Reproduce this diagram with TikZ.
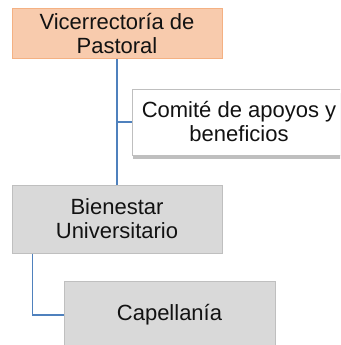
\documentclass[tikz,border=0pt]{standalone}
\usepackage{fontspec}
\setmainfont{Liberation Sans}
\usepackage{xcolor}
\usetikzlibrary{shadows}

\begin{document}
\begin{tikzpicture}[x=1pt, y=-1pt]
				\definecolor{ORANGE_FILL}{RGB}{248, 203, 173}
				\definecolor{ORANGE_LINE}{RGB}{244, 177, 131}
				\definecolor{GRAY_FILL}{RGB}{217, 217, 217}
				\definecolor{GRAY_LINE}{RGB}{191, 191, 191}
				\definecolor{LINK_BLUE}{RGB}{79, 129, 189}
				\definecolor{ALMOST_BLACK}{RGB}{18, 18, 18}
				\tikzset{
					unit/.style={draw, rectangle, line width={1pt}, align=center, text={ALMOST_BLACK},
						font={\fontsize{22}{24}\selectfont}, inner sep={0pt}},
					link/.style={draw={LINK_BLUE}, line width={1.5pt}}
				}
				\clip ( 0.000,  0.000) rectangle ( 340.000,  345.000);
				
				\node[unit, fill={ORANGE_FILL}, draw={ORANGE_LINE}, minimum width={210pt}, minimum height={50pt}]
					(vicerrectoria) at ( 117.000,  34.000) {Vicerrectoría de\\Pastoral};
				
				\node[unit, fill=white, draw={GRAY_LINE}, minimum width={214pt}, minimum height={66pt},
					drop shadow={shadow xshift={1pt}, shadow yshift={-4pt}, opacity={0.5}}]
					(comite) at ( 239.000,  122.000) {Comité de apoyos y\\beneficios};
				
				\node[unit, fill={GRAY_FILL}, draw={GRAY_LINE}, minimum width={210pt}, minimum height={68pt}]
					(bienestar) at ( 117.000,  219.000) {Bienestar\\Universitario};
				
				\node[unit, fill={GRAY_FILL}, draw={GRAY_LINE}, minimum width={211pt}, minimum height={68pt}]
					(capellania) at ( 169.500,  315.000) {Capellanía};
				
				\coordinate (bienestar_out) at ([xshift={21pt}]bienestar.south west);
				
				\draw[link] (vicerrectoria.south) -- (bienestar.north);
				\draw[link] (vicerrectoria.south) |- (comite.west);
				\draw[link] (bienestar_out) |- (capellania.west);
				
			\end{tikzpicture}
\end{document}
